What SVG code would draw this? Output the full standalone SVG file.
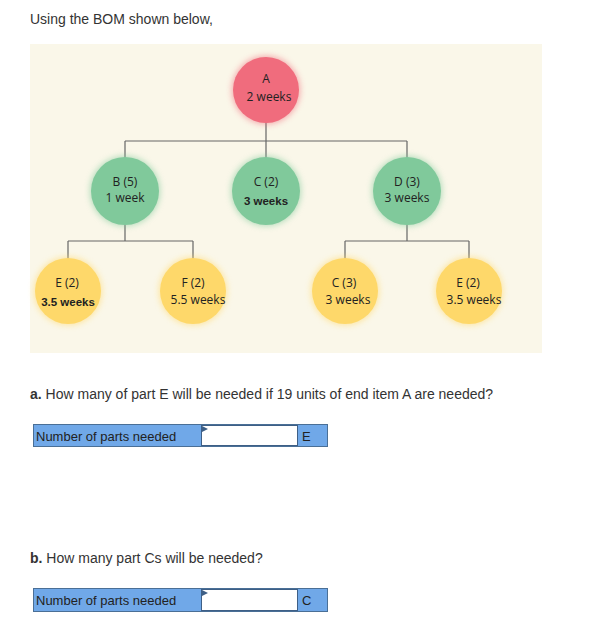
<svg xmlns="http://www.w3.org/2000/svg" width="592" height="640" viewBox="0 0 592 640">
<defs>
<filter id="glow" x="-40%" y="-40%" width="180%" height="180%"><feGaussianBlur in="SourceGraphic" stdDeviation="3"/></filter>
<style>
.t{font-family:"Open Sans","Noto Sans",sans-serif;font-size:12px;fill:#222;text-anchor:middle}
.b{font-weight:bold;font-family:"Liberation Sans",Arial,sans-serif;font-size:11.5px}
.q{font-family:"Liberation Sans",Arial,sans-serif;font-size:14px;fill:#333}
.lbl{font-family:"Liberation Sans",Arial,sans-serif;font-size:13px;fill:#222}
.red{fill:#f06c7d}.grn{fill:#80c99b}.yel{fill:#fed86a}
.conn{fill:none;stroke:#666;stroke-width:1.2}
.blue{fill:#70a8e8;stroke:#4a6f96;stroke-width:1}
.inp{fill:#fff;stroke:#3e5f86;stroke-width:1}
</style>
</defs>
<rect width="592" height="640" fill="#fff"/>
<text class="q" x="30" y="24">Using the BOM shown below,</text>
<rect x="30" y="44" width="512" height="309" fill="#faf7e9"/>
<g id="connectors">
<path class="conn" d="M266 120 V141 M125 141 H407 M125 141 V160 M266 141 V160 M407 141 V160"/>
<path class="conn" d="M125 222 V241 M68 241 H193 M68 241 V261 M193 241 V261"/>
<path class="conn" d="M407 222 V241 M345 241 H469 M345 241 V261 M469 241 V261"/>
</g>
<g id="nodeA"><circle cx="266" cy="90" r="34" class="red" filter="url(#glow)" opacity="0.6"/><circle cx="266" cy="90" r="33" class="red"/><text class="t" x="266" y="83">A</text><text class="t" x="269" y="101">2 weeks</text></g>
<g id="nodeB"><circle cx="125" cy="191" r="35" class="grn" filter="url(#glow)" opacity="0.6"/><circle cx="125" cy="191" r="34" class="grn"/><text class="t" x="125" y="186">B (5)</text><text class="t" x="125" y="202">1 week</text></g>
<g id="nodeC"><circle cx="266" cy="191" r="35" class="grn" filter="url(#glow)" opacity="0.6"/><circle cx="266" cy="191" r="34" class="grn"/><text class="t" x="266" y="186">C (2)</text><text class="t b" x="266" y="205">3 weeks</text></g>
<g id="nodeD"><circle cx="407" cy="191" r="35" class="grn" filter="url(#glow)" opacity="0.6"/><circle cx="407" cy="191" r="34" class="grn"/><text class="t" x="407" y="186">D (3)</text><text class="t" x="407" y="202">3 weeks</text></g>
<g id="nodeE1"><circle cx="68" cy="291" r="34" class="yel" filter="url(#glow)" opacity="0.6"/><circle cx="68" cy="291" r="33" class="yel"/><text class="t" x="67" y="287">E (2)</text><text class="t b" x="68" y="306">3.5 weeks</text></g>
<g id="nodeF"><circle cx="193" cy="291" r="34" class="yel" filter="url(#glow)" opacity="0.6"/><circle cx="193" cy="291" r="33" class="yel"/><text class="t" x="193" y="287">F (2)</text><text class="t" x="198" y="304">5.5 weeks</text></g>
<g id="nodeC3"><circle cx="345" cy="291" r="34" class="yel" filter="url(#glow)" opacity="0.6"/><circle cx="345" cy="291" r="33" class="yel"/><text class="t" x="344" y="287">C (3)</text><text class="t" x="348" y="304">3 weeks</text></g>
<g id="nodeE2"><circle cx="469" cy="291" r="34" class="yel" filter="url(#glow)" opacity="0.6"/><circle cx="469" cy="291" r="33" class="yel"/><text class="t" x="468" y="287">E (2)</text><text class="t" x="474" y="304">3.5 weeks</text></g>
<text class="q" x="30" y="399"><tspan font-weight="bold">a.</tspan> How many of part E will be needed if 19 units of end item A are needed?</text>
<g id="answerA">
<rect class="blue" x="33.5" y="424.5" width="294" height="22"/>
<rect class="inp" x="201.5" y="425.5" width="96" height="20"/>
<path d="M202 426 L208 429 L202 432 Z" fill="#3e5f86"/>
<text class="lbl" x="36" y="441">Number of parts needed</text>
<text class="lbl" x="302" y="441">E</text>
</g>
<text class="q" x="30" y="563"><tspan font-weight="bold">b.</tspan> How many part Cs will be needed?</text>
<g id="answerB">
<rect class="blue" x="33.5" y="588.5" width="294" height="23"/>
<rect class="inp" x="201.5" y="589.5" width="96" height="21"/>
<path d="M202 590 L208 593 L202 596 Z" fill="#3e5f86"/>
<text class="lbl" x="36" y="605">Number of parts needed</text>
<text class="lbl" x="302" y="605">C</text>
</g>
</svg>
